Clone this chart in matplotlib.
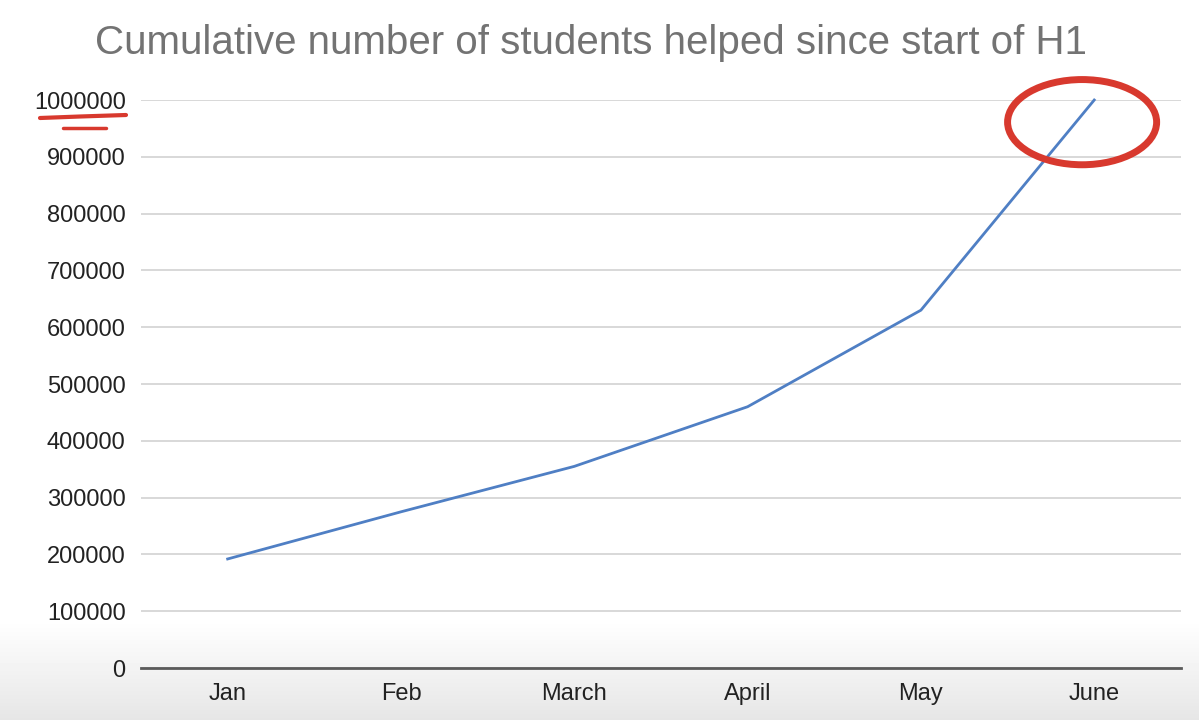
import numpy as np
import matplotlib
matplotlib.use('Agg')
import matplotlib.pyplot as plt
from matplotlib.patches import Ellipse
from matplotlib.lines import Line2D

# Chart data
months = ['Jan', 'Feb', 'March', 'April', 'May', 'June']
students = [192000, 275000, 355000, 460000, 630000, 1000000]
y_ticks = [0, 100000, 200000, 300000, 400000, 500000, 600000, 700000, 800000, 900000, 1000000]

plt.rcParams['font.family'] = ['Liberation Sans', 'DejaVu Sans']

fig = plt.figure(figsize=(11.99, 7.2), dpi=100)

# Photo-like background: light grey shading toward the bottom
bg = fig.add_axes([0, 0, 1, 1], zorder=-5)
rows = np.arange(720)
shade = np.clip((rows - 620) / 100.0, 0, 1)
grad = 1.0 - 0.10 * shade[:, None]
bg.imshow(grad, cmap='gray', vmin=0, vmax=1, aspect='auto', extent=[0, 1, 0, 1])
bg.axis('off')

ax = fig.add_axes([0.1176, 0.0722, 0.8673, 0.7889])
ax.patch.set_alpha(0)

x = np.arange(len(months))
ax.plot(x, students, color='#4f7fc4', linewidth=2.0, clip_on=False, zorder=3)

ax.set_xlim(-0.5, len(months) - 0.5)
ax.set_ylim(0, 1000000)
ax.set_yticks(y_ticks)
ax.set_yticklabels([str(v) for v in y_ticks])
ax.set_xticks(x)
ax.set_xticklabels(months)

ax.grid(axis='y', color='#d8d8d8', linewidth=1.4)
ax.set_axisbelow(True)
for side in ['top', 'right', 'left']:
    ax.spines[side].set_visible(False)
ax.spines['bottom'].set_color('#5a5a5a')
ax.spines['bottom'].set_linewidth(2.0)
ax.spines['bottom'].set_zorder(2)
ax.tick_params(axis='both', length=0, labelsize=17, labelcolor='#222222')
ax.tick_params(axis='y', pad=11)
ax.tick_params(axis='x', pad=11)

fig.text(0.493, 0.94, 'Cumulative number of students helped since start of H1',
         ha='center', va='center', fontsize=29, color='#737373')

# Red hand-drawn highlights
ring = Ellipse((4.93, 961000), 0.86, 150000, angle=0, fill=False,
               edgecolor='#d8392e', linewidth=5, clip_on=False, zorder=4)
ax.add_patch(ring)

fig.add_artist(Line2D([40 / 1199, 80 / 1199, 126 / 1199],
                      [1 - 118 / 720, 1 - 116.5 / 720, 1 - 115 / 720],
                      color='#d8392e', linewidth=3, solid_capstyle='round'))
fig.add_artist(Line2D([63 / 1199, 106 / 1199], [1 - 128 / 720, 1 - 128 / 720],
                      color='#d8392e', linewidth=2.5, solid_capstyle='round'))

fig.savefig('out.png', dpi=100)
